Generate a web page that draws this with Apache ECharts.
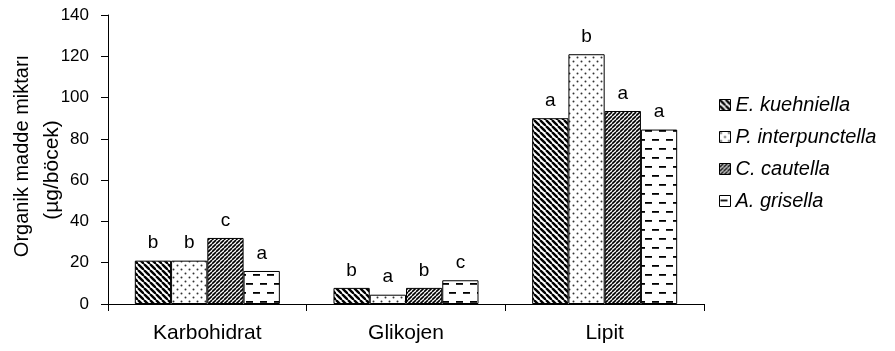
<!DOCTYPE html>
<html><head><meta charset="utf-8">
<script src="https://cdn.jsdelivr.net/npm/echarts@6/dist/echarts.min.js"></script>
<style>html,body{margin:0;padding:0;background:#fff}#c{width:895px;height:351px}</style>
</head><body><div id="c"></div>
<script>
var categories = ['Karbohidrat', 'Glikojen', 'Lipit'];
var seriesNames = ['E. kuehniella', 'P. interpunctella', 'C. cautella', 'A. grisella'];
var eKuehniella = [21, 7.8, 90];
var pInterpunctella = [21, 4.5, 121];
var cCautella = [32, 7.8, 93.5];
var aGrisella = [16, 11.5, 84.5];
var letters = [
  ['b', 'b', 'a'],
  ['b', 'a', 'b'],
  ['c', 'b', 'a'],
  ['a', 'c', 'a']
];
var yTicks = [0, 20, 40, 60, 80, 100, 120, 140];

function mk(w, h, draw) {
  var c = document.createElement('canvas');
  c.width = w; c.height = h;
  var g = c.getContext('2d');
  g.fillStyle = '#fff'; g.fillRect(0, 0, w, h);
  draw(g, w, h);
  return { image: c, repeat: 'repeat' };
}
var patE = mk(6, 6, function (g, w, h) {
  g.strokeStyle = '#000'; g.lineWidth = 2.4;
  for (var k = -1; k <= 1; k++) {
    g.beginPath(); g.moveTo(k * w, 0); g.lineTo(k * w + w, h); g.stroke();
  }
});
var patP = mk(8, 8, function (g) {
  g.fillStyle = '#333';
  g.beginPath(); g.arc(1.5, 1.5, 1.0, 0, Math.PI * 2); g.fill();
  g.beginPath(); g.arc(5.5, 5.5, 1.0, 0, Math.PI * 2); g.fill();
});
var patC = mk(4, 4, function (g, w, h) {
  g.strokeStyle = '#000'; g.lineWidth = 1.6;
  for (var k = -1; k <= 1; k++) {
    g.beginPath(); g.moveTo(k * w, h); g.lineTo(k * w + w, 0); g.stroke();
  }
});
var patA = mk(14, 18, function (g) {
  g.fillStyle = '#000';
  g.fillRect(1, 4, 7, 1.8);
  g.fillRect(8, 13, 6, 1.8);
  g.fillRect(0, 13, 1, 1.8);
});
var pats = [patE, patP, patC, patA];
var dataSets = [eKuehniella, pInterpunctella, cCautella, aGrisella];

var series = dataSets.map(function (d, i) {
  return {
    name: seriesNames[i],
    type: 'bar',
    data: d,
    barGap: '0%',
    barCategoryGap: '27%',
    itemStyle: { color: pats[i], borderColor: '#000', borderWidth: 1 },
    label: {
      show: true, position: 'top', distance: 8,
      fontFamily: 'Liberation Sans', fontSize: 19, color: '#000',
      formatter: function (p) { return letters[i][p.dataIndex]; }
    },
    emphasis: { disabled: true }
  };
});

var chart = echarts.init(document.getElementById('c'), null, { renderer: 'canvas' });
chart.setOption({
  animation: false,
  grid: { left: 108, right: 191, top: 15, bottom: 47 },
  legend: {
    orient: 'vertical', left: 719, top: 95, padding: 0,
    icon: 'rect',
    itemWidth: 11, itemHeight: 11, itemGap: 12,
    itemStyle: { borderColor: '#000', borderWidth: 1 },
    textStyle: { fontFamily: 'Liberation Sans', fontSize: 20, fontStyle: 'italic', color: '#000' },
    data: seriesNames
  },
  xAxis: {
    type: 'category', data: categories,
    axisLine: { lineStyle: { color: '#000', width: 1 } },
    axisTick: { show: true, length: 7, lineStyle: { color: '#000' } },
    axisLabel: { fontFamily: 'Liberation Sans', fontSize: 21, color: '#000', margin: 19 }
  },
  yAxis: {
    type: 'value', min: 0, max: 140, interval: 20,
    axisLine: { show: true, lineStyle: { color: '#000', width: 1 } },
    axisTick: { show: true, length: 7, lineStyle: { color: '#000' } },
    splitLine: { show: false },
    axisLabel: {
      fontFamily: 'Liberation Sans', fontSize: 17, color: '#000', margin: 19,
      formatter: function (v) { return yTicks.indexOf(v) >= 0 ? String(v) : ''; }
    }
  },
  graphic: [
    { type: 'text', x: 22, y: 156, rotation: Math.PI / 2,
      style: { text: 'Organik madde miktarı', font: '20px "Liberation Sans"', fill: '#000', align: 'center', verticalAlign: 'middle' } },
    { type: 'text', x: 52, y: 170, rotation: Math.PI / 2,
      style: { text: '(µg/böcek)', font: '21px "Liberation Sans"', fill: '#000', align: 'center', verticalAlign: 'middle' } }
  ],
  series: series
});
</script></body></html>
